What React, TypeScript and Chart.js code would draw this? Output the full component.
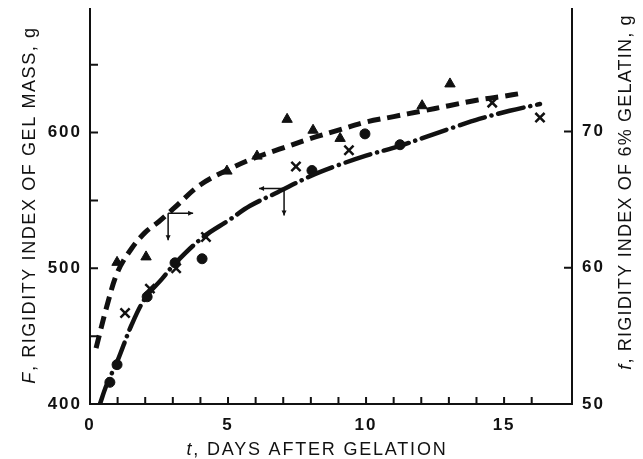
import React, { useEffect, useRef } from "react";
import { Chart, registerables } from "chart.js";
Chart.register(...registerables);

// ---- data ----
// solid curve: F, rigidity index of gel mass (left axis)
const solidDays = [0.36, 0.6, 1.0, 1.5, 2.0, 2.6, 3.1, 4.1, 5.0, 5.8, 6.8, 8.0, 9.0, 10.0, 11.2, 12.2, 13.2, 14.1, 15.2, 16.3];
const solidF = [400, 414, 432, 458, 478, 492, 504, 523, 535, 546, 556, 568, 576, 583, 590, 597, 604, 610, 616, 621];
// dashed curve: f, rigidity index of 6% gelatin (right axis)
const dashDays = [0.22, 0.6, 1.0, 1.5, 2.0, 2.5, 3.0, 4.0, 5.0, 6.0, 7.0, 8.0, 9.0, 10.0, 11.0, 12.0, 13.0, 14.0, 15.0, 15.6];
const dashf = [54.1, 57.1, 59.7, 61.4, 62.6, 63.4, 64.3, 66.1, 67.2, 68.1, 68.8, 69.5, 70.1, 70.7, 71.1, 71.5, 71.9, 72.3, 72.6, 72.8];
// triangles (right axis)
const triDays = [0.98, 2.03, 4.96, 6.05, 7.14, 8.08, 9.06, 12.03, 13.04];
const trif = [60.4, 60.8, 67.1, 68.2, 70.9, 70.1, 69.5, 71.9, 73.5];
// crosses (left axis)
const crossDays = [1.27, 2.17, 3.12, 4.2, 7.46, 9.38, 14.57, 16.3];
const crossF = [467, 485, 500, 523, 575, 587, 622, 611];
// filled circles (left axis)
const dotDays = [0.72, 0.98, 2.07, 3.08, 4.06, 8.04, 9.96, 11.23];
const dotF = [416, 429, 479, 504, 507, 572, 599, 591];
// arrows marking which axis each curve belongs to
const arrowDays = [2.83, 7.03];
const arrowValues = [64.0, 558.8];
const arrowAxes = ["y1", "y"];
const arrowDirs = [1, -1];
// tick labels and tick marks
const xTickLabels = [0, 5, 10, 15];
const xTickMarks = [1, 2, 3, 4, 5, 6, 7, 8, 9, 10, 11, 12, 13, 14, 15, 16];
const leftTickLabels = [400, 500, 600];
const leftTickMarks = [450, 500, 550, 600, 650];
const rightTickLabels = [50, 60, 70];
const rightTickMarks = [60, 70];

const FONT = "'Liberation Sans', Arial, Helvetica, sans-serif";
const INK = "#111";

function pts(xs: number[], ys: number[]) {
  return xs.map((x, i) => ({ x, y: ys[i] }));
}

function drawMixed(
  ctx: CanvasRenderingContext2D,
  parts: { t: string; italic?: boolean }[],
  cx: number,
  cy: number,
  rot: number,
  size: number,
  spacing: string
) {
  ctx.save();
  ctx.letterSpacing = spacing;
  ctx.translate(cx, cy);
  ctx.rotate(rot);
  ctx.textBaseline = "alphabetic";
  ctx.textAlign = "left";
  const fonts = parts.map((p) => `${p.italic ? "italic " : ""}${size}px ${FONT}`);
  let total = 0;
  const widths = parts.map((p, i) => {
    ctx.font = fonts[i];
    const w = ctx.measureText(p.t).width;
    total += w;
    return w;
  });
  let x = -total / 2;
  parts.forEach((p, i) => {
    ctx.font = fonts[i];
    ctx.fillText(p.t, x, 0);
    x += widths[i];
  });
  ctx.restore();
}

function arrowHead(ctx: CanvasRenderingContext2D, x: number, y: number, dx: number, dy: number) {
  const s = 5;
  ctx.beginPath();
  ctx.moveTo(x, y);
  ctx.lineTo(x - dx * s - dy * 2.5, y - dy * s - dx * 2.5);
  ctx.lineTo(x - dx * s + dy * 2.5, y - dy * s + dx * 2.5);
  ctx.closePath();
  ctx.fill();
}

const decorPlugin = {
  id: "decor",
  beforeDraw(chart: any) {
    chart.ctx.letterSpacing = "2px";
  },
  afterDraw(chart: any) {
    const ctx: CanvasRenderingContext2D = chart.ctx;
    const { x, y, y1 } = chart.scales;
    const area = chart.chartArea;
    ctx.save();
    ctx.letterSpacing = "0px";
    ctx.strokeStyle = INK;
    ctx.fillStyle = INK;
    ctx.lineWidth = 2;
    // inward tick marks
    ctx.beginPath();
    xTickMarks.forEach((d) => {
      const px = x.getPixelForValue(d);
      ctx.moveTo(px, area.bottom);
      ctx.lineTo(px, area.bottom - 7);
    });
    leftTickMarks.forEach((v) => {
      const py = y.getPixelForValue(v);
      ctx.moveTo(area.left, py);
      ctx.lineTo(area.left + 8, py);
    });
    rightTickMarks.forEach((v) => {
      const py = y1.getPixelForValue(v);
      ctx.moveTo(area.right, py);
      ctx.lineTo(area.right - 8, py);
    });
    ctx.stroke();
    // arrows
    ctx.lineWidth = 1.5;
    arrowDays.forEach((d, i) => {
      const sc = chart.scales[arrowAxes[i]];
      const px = x.getPixelForValue(d);
      const py = sc.getPixelForValue(arrowValues[i]);
      const dir = arrowDirs[i];
      const hx = px + dir * 25;
      const vy = py + 27;
      ctx.beginPath();
      ctx.moveTo(px, py);
      ctx.lineTo(hx, py);
      ctx.moveTo(px, py);
      ctx.lineTo(px, vy);
      ctx.stroke();
      arrowHead(ctx, hx, py, dir, 0);
      arrowHead(ctx, px, vy, 0, 1);
    });
    ctx.restore();

    ctx.save();
    ctx.fillStyle = INK;
    drawMixed(ctx, [{ t: "t", italic: true }, { t: ", DAYS AFTER GELATION" }], 317, 455, 0, 18, "1.8px");
    drawMixed(ctx, [{ t: "F", italic: true }, { t: ", RIGIDITY INDEX OF GEL MASS, g" }], 35, 205, -Math.PI / 2, 18, "1.6px");
    drawMixed(ctx, [{ t: "f", italic: true }, { t: ", RIGIDITY INDEX OF 6% GELATIN, g" }], 631, 192, -Math.PI / 2, 18, "1.2px");
    ctx.restore();
  },
};

const tickFont = { family: FONT, size: 17, weight: "bold" as const };

export default function App() {
  const ref = useRef<HTMLCanvasElement | null>(null);
  useEffect(() => {
    document.body.style.margin = "0";
    if (!ref.current) return;
    const chart = new Chart(ref.current, {
      type: "scatter",
      data: {
        datasets: [
          {
            type: "line",
            label: "F",
            data: pts(solidDays, solidF),
            yAxisID: "y",
            borderColor: INK,
            borderWidth: 4.5,
            borderDash: [26, 7, 0.1, 7],
            borderCapStyle: "round",
            pointRadius: 0,
            tension: 0.35,
            fill: false,
          } as any,
          {
            type: "line",
            label: "f",
            data: pts(dashDays, dashf),
            yAxisID: "y1",
            borderColor: INK,
            borderWidth: 5,
            borderDash: [13, 7],
            pointRadius: 0,
            tension: 0.35,
            fill: false,
          } as any,
          {
            label: "triangles",
            data: pts(triDays, trif),
            yAxisID: "y1",
            pointStyle: "triangle",
            pointRadius: 6,
            backgroundColor: INK,
            borderColor: INK,
            borderWidth: 1,
          },
          {
            label: "crosses",
            data: pts(crossDays, crossF),
            yAxisID: "y",
            pointStyle: "crossRot",
            pointRadius: 6.5,
            backgroundColor: INK,
            borderColor: INK,
            borderWidth: 2.5,
          },
          {
            label: "circles",
            data: pts(dotDays, dotF),
            yAxisID: "y",
            pointStyle: "circle",
            pointRadius: 5,
            backgroundColor: INK,
            borderColor: INK,
            borderWidth: 1,
          },
        ],
      },
      options: {
        responsive: false,
        animation: false,
        devicePixelRatio: 1,
        layout: { padding: { top: 8, left: 0, right: 0, bottom: 0 } },
        plugins: { legend: { display: false }, tooltip: { enabled: false } },
        scales: {
          x: {
            type: "linear",
            min: 0,
            max: 17.46,
            afterBuildTicks: (s: any) => {
              s.ticks = xTickLabels.map((v) => ({ value: v }));
            },
            afterFit: (s: any) => {
              s.height = 55;
              s.paddingLeft = 0;
              s.paddingRight = 0;
            },
            grid: { display: true, drawOnChartArea: false, drawTicks: false },
            border: { display: true, color: INK, width: 2 },
            ticks: { font: tickFont, color: INK, padding: 11, maxRotation: 0, autoSkip: false },
          },
          y: {
            type: "linear",
            position: "left",
            min: 400,
            max: 691,
            afterBuildTicks: (s: any) => {
              s.ticks = leftTickLabels.map((v) => ({ value: v }));
            },
            afterFit: (s: any) => {
              s.width = 90;
              s.paddingTop = 0;
              s.paddingBottom = 0;
            },
            grid: { display: true, drawOnChartArea: false, drawTicks: false },
            border: { display: true, color: INK, width: 2 },
            ticks: { font: tickFont, color: INK, padding: 8, autoSkip: false },
          },
          y1: {
            type: "linear",
            position: "right",
            min: 50,
            max: 79.0,
            afterBuildTicks: (s: any) => {
              s.ticks = rightTickLabels.map((v) => ({ value: v }));
            },
            afterFit: (s: any) => {
              s.width = 71;
              s.paddingTop = 0;
              s.paddingBottom = 0;
            },
            grid: { display: true, drawOnChartArea: false, drawTicks: false },
            border: { display: true, color: INK, width: 2 },
            ticks: { font: tickFont, color: INK, padding: 10, autoSkip: false },
          },
        },
      },
      plugins: [decorPlugin],
    });
    return () => chart.destroy();
  }, []);
  return (
    <div style={{ width: 643, height: 459 }}>
      <canvas ref={ref} width={643} height={459} />
    </div>
  );
}
